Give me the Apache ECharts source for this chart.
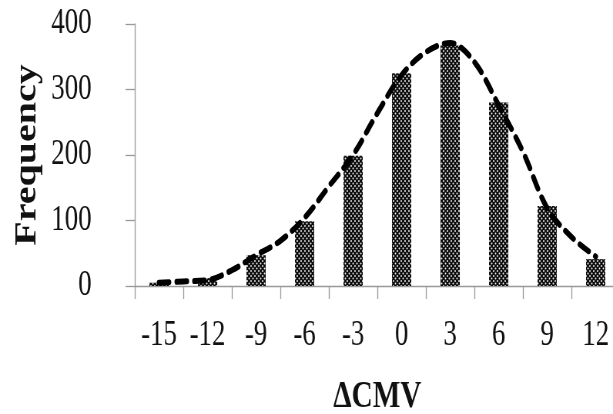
<!DOCTYPE html>
<html>
<head>
<meta charset="utf-8">
<script src="https://cdn.jsdelivr.net/npm/echarts@6/dist/echarts.min.js"></script>
<style>
  html, body { margin: 0; padding: 0; background: #fff; overflow: hidden; }
  #wrap { width: 613px; height: 414px; overflow: hidden; position: relative; }
  #chart { width: 796px; height: 414px; transform: scaleX(0.7701); transform-origin: 0 0; }
</style>
</head>
<body>
<div id="wrap"><div id="chart"></div></div>
<script>
// Data
const categories = ['-15', '-12', '-9', '-6', '-3', '0', '3', '6', '9', '12'];
const frequency = [5, 12, 47, 99, 199, 325, 367, 280, 122, 41];
// Fitted normal curve at half-bin steps
const fitX = [-15, -13.5, -12, -10.5, -9, -7.5, -6, -4.5, -3, -1.5, 0, 1.5, 3, 4.5, 6, 7.5, 9, 10.5, 12];
const fitY = [5, 7, 9, 24, 47, 69, 104, 152, 200, 264, 322, 357, 371, 342, 276, 205, 119, 75, 45];
const yTicks = [0, 100, 200, 300, 400];

// Dotted cross-hatch fill pattern
const pat = document.createElement('canvas');
pat.width = 5; pat.height = 5;
const pc = pat.getContext('2d');
pc.fillStyle = '#0d0d0d';
pc.fillRect(0, 0, 5, 5);
pc.fillStyle = '#f4f4f4';
[[1, 1], [3.5, 3.5]].forEach(function (p) {
  pc.beginPath(); pc.arc(p[0], p[1], 0.95, 0, Math.PI * 2); pc.fill();
});

const chart = echarts.init(document.getElementById('chart'), null, { renderer: 'canvas' });
const serif = 'Liberation Serif, Times New Roman, serif';
chart.setOption({
  animation: false,
  backgroundColor: '#ffffff',
  grid: { left: 175, top: 24, width: 630, bottom: 128, containLabel: false, outerBoundsMode: 'none' },
  xAxis: [{
    type: 'category',
    data: categories,
    boundaryGap: true,
    name: 'ΔCMV',
    nameLocation: 'middle',
    nameGap: 92,
    nameTextStyle: { fontFamily: serif, fontWeight: 'bold', fontSize: 38, color: '#111' },
    axisLine: { show: true, lineStyle: { color: '#999', width: 1.3 } },
    axisTick: { show: true, length: 13, lineStyle: { color: '#999', width: 1.3 } },
    axisLabel: { interval: 0, margin: 32, fontFamily: serif, fontSize: 35, color: '#111' }
  }, {
    type: 'value',
    min: -16.5,
    max: 13.5,
    show: false
  }],
  yAxis: {
    type: 'value',
    min: yTicks[0],
    max: yTicks[yTicks.length - 1],
    interval: 100,
    name: 'Frequency',
    nameLocation: 'middle',
    nameGap: 110,
    nameTextStyle: { fontFamily: serif, fontWeight: 'bold', fontSize: 40, color: '#111' },
    splitLine: { show: false },
    axisLine: { show: true, onZero: false, lineStyle: { color: '#999', width: 1.3 } },
    axisTick: { show: true, length: 12, lineStyle: { color: '#999', width: 1.3 } },
    axisLabel: { margin: 56, fontFamily: serif, fontSize: 35, color: '#111' }
  },
  series: [
    {
      type: 'bar',
      data: frequency,
      barWidth: 25,
      itemStyle: { color: { image: pat, repeat: 'repeat' } }
    },
    {
      type: 'line',
      xAxisIndex: 1,
      data: fitX.map(function (x, i) { return [x, fitY[i]]; }),
      smooth: 0.35,
      symbol: 'none',
      z: 5,
      lineStyle: { color: '#000', width: 6, type: [13, 10], cap: 'round' }
    }
  ]
});
</script>
</body>
</html>
